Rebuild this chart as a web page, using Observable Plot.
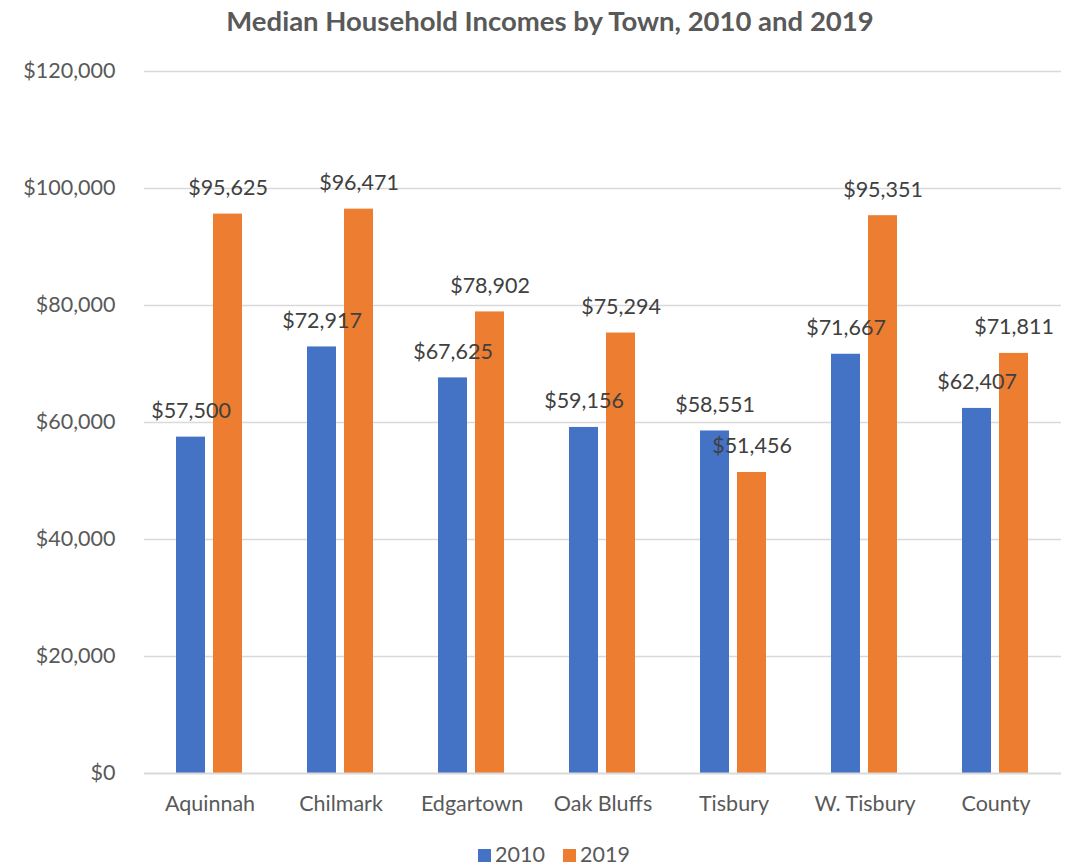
<!DOCTYPE html>
<html><head><meta charset="utf-8">
<script src="https://cdn.jsdelivr.net/npm/d3@7"></script>
<script src="https://cdn.jsdelivr.net/npm/@observablehq/plot@0.6"></script>
<style>
body{margin:0;background:#fff;font-family:Lato,sans-serif;}
#wrap{position:relative;width:1071px;height:866px;overflow:hidden;}
#title{position:absolute;top:4px;left:0;width:1100px;text-align:center;font-weight:bold;font-size:27.5px;color:#595959;}
#legend{position:absolute;top:842px;left:0;width:1108px;text-align:center;font-size:21.5px;color:#595959;line-height:24px;}
.sw{display:inline-block;width:13px;height:13px;margin-right:4px;vertical-align:0px;}
.item{display:inline-block;margin:0 9px;}
#chart{position:absolute;top:0;left:0;}
</style></head>
<body>
<div id="wrap">
  <div id="chart"></div>
  <div id="title">Median Household Incomes by Town, 2010 and 2019</div>
  <div id="legend"></div>
</div>
<script>
const towns = ["Aquinnah","Chilmark","Edgartown","Oak Bluffs","Tisbury","W. Tisbury","County"];
const years = ["2010","2019"];
const inc2010 = [57500,72917,67625,59156,58551,71667,62407];
const inc2019 = [95625,96471,78902,75294,51456,95351,71811];
const yTicks = [0,20000,40000,60000,80000,100000,120000];
const colors = ["#4472C4","#ED7D31"];

const data = towns.flatMap((t,i)=>[
  {town:t, year:years[0], value:inc2010[i]},
  {town:t, year:years[1], value:inc2019[i]}
]);
const fmt = d => "$" + d3.format(",")(d);

const chart = Plot.plot({
  width:1071, height:866,
  marginTop:71, marginBottom:93, marginLeft:143, marginRight:9,
  style:{fontFamily:"Lato, sans-serif", fontSize:"21.5px", color:"#595959", background:"#fff", overflow:"visible"},
  fx:{domain:towns, padding:0, label:null, tickSize:0, tickPadding:22, axis:"bottom"},
  x:{domain:years, paddingInner:0.21, paddingOuter:0.85, axis:null},
  y:{domain:[0,120000], ticks:yTicks, tickFormat:fmt, tickSize:0, tickPadding:29, label:null},
  color:{domain:years, range:colors},
  marks:[
    Plot.ruleY(yTicks.slice(1), {stroke:"#d9d9d9", strokeWidth:1.5}),
    Plot.barY(data, {fx:"town", x:"year", y:"value", fill:"year"}),
    Plot.ruleY([0], {stroke:"#d9d9d9", strokeWidth:2}),
    Plot.text(data, {fx:"town", x:"year", y:"value", text:d=>fmt(d.value), dy:-26, fill:"#404040", fontSize:21.5})
  ]
});
document.getElementById("chart").appendChild(chart);

const leg = document.getElementById("legend");
years.forEach((y,i)=>{
  const it = document.createElement("span");
  it.className = "item";
  it.innerHTML = `<span class="sw" style="background:${colors[i]}"></span>${y}`;
  leg.appendChild(it);
});
</script>
</body></html>
